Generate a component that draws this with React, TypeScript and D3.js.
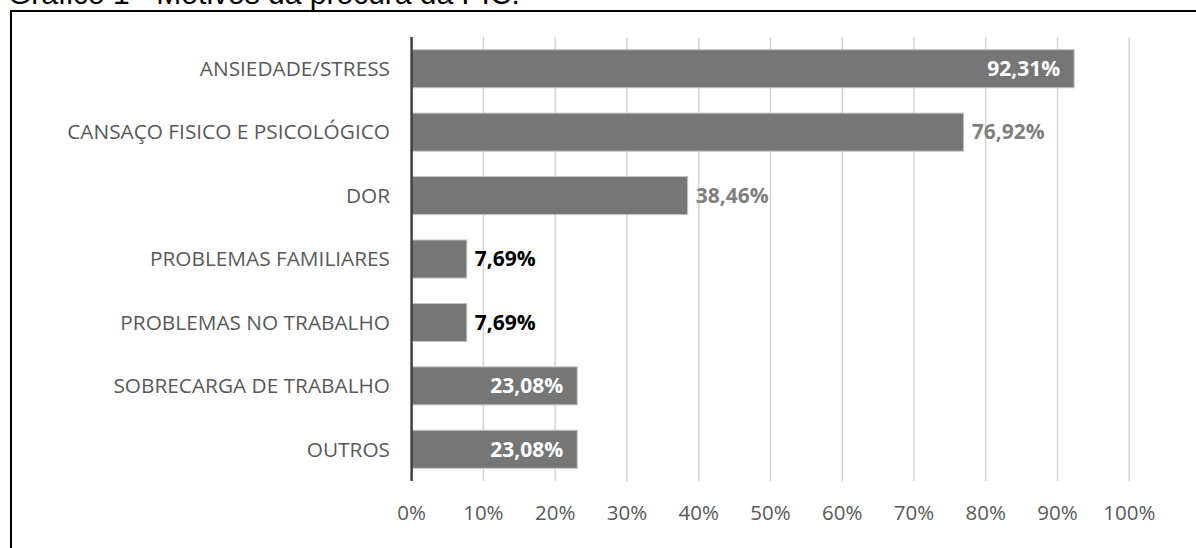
import React from "react";
import * as d3 from "d3";

// Motivos da procura da PIC — percentage of respondents per reason
const categories = [
  "ANSIEDADE/STRESS",
  "CANSAÇO FISICO E PSICOLÓGICO",
  "DOR",
  "PROBLEMAS FAMILIARES",
  "PROBLEMAS NO TRABALHO",
  "SOBRECARGA DE TRABALHO",
  "OUTROS",
];
const values = [92.31, 76.92, 38.46, 7.69, 7.69, 23.08, 23.08];
const tickValues = [0, 10, 20, 30, 40, 50, 60, 70, 80, 90, 100];
const title = "Gráfico 1 - Motivos da procura da PIC.";

// Label placement per bar: inside the bar end or just past it
const labelStyles = [
  { inside: true, color: "#ffffff" },
  { inside: false, color: "#7f7f7f" },
  { inside: false, color: "#7f7f7f" },
  { inside: false, color: "#000000" },
  { inside: false, color: "#000000" },
  { inside: true, color: "#ffffff" },
  { inside: true, color: "#ffffff" },
];

const W = 1196;
const H = 548;
const plot = { left: 411.6, right: 1129.3, top: 37, bottom: 481 };
const font = "'Open Sans', Lato, sans-serif";

const fmt = (v: number) => v.toFixed(2).replace(".", ",") + "%";

export default function App() {
  const x = d3.scaleLinear().domain([0, 100]).range([plot.left, plot.right]);
  const y = d3
    .scaleBand<string>()
    .domain(categories)
    .range([plot.top, plot.bottom])
    .paddingInner(0.4)
    .paddingOuter(0.2);

  return (
    <div style={{ position: "absolute", left: 0, top: 0 }}>
      <svg width={W} height={H} style={{ display: "block", background: "#fff" }}>
        <text x={8} y={4} fontFamily="Arial, 'Liberation Sans', sans-serif" fontSize={30} fill="#000">
          {title}
        </text>
        <rect x={11} y={11} width={W + 20} height={H + 20} fill="none" stroke="#000" strokeWidth={2} />

        {/* vertical gridlines */}
        {tickValues.slice(1).map((t) => (
          <line
            key={t}
            x1={x(t)}
            x2={x(t)}
            y1={plot.top}
            y2={plot.bottom}
            stroke="#d4d4d4"
            strokeWidth={1.5}
          />
        ))}

        {/* bars */}
        {categories.map((c, i) => (
          <rect
            key={c}
            x={x(0)}
            y={y(c)}
            width={x(values[i]) - x(0)}
            height={y.bandwidth()}
            fill="#767676"
            stroke="#c4c4c4"
            strokeWidth={1}
          />
        ))}

        {/* category axis line */}
        <line x1={x(0)} x2={x(0)} y1={plot.top} y2={plot.bottom} stroke="#404040" strokeWidth={2.5} />

        {/* category labels */}
        {categories.map((c) => (
          <text
            key={c}
            x={390}
            y={(y(c) as number) + y.bandwidth() / 2}
            dy="0.35em"
            textAnchor="end"
            fontFamily={font}
            fontSize={20.8}
            fill="#595959"
          >
            {c}
          </text>
        ))}

        {/* value labels */}
        {categories.map((c, i) => {
          const s = labelStyles[i];
          const xe = x(values[i]);
          return (
            <text
              key={c}
              x={s.inside ? xe - 14 : xe + 8}
              y={(y(c) as number) + y.bandwidth() / 2}
              dy="0.35em"
              textAnchor={s.inside ? "end" : "start"}
              fontFamily={font}
              fontWeight="bold"
              fontSize={21}
              fill={s.color}
            >
              {fmt(values[i])}
            </text>
          );
        })}

        {/* x tick labels */}
        {tickValues.map((t) => (
          <text
            key={t}
            x={x(t)}
            y={513}
            dy="0.35em"
            textAnchor="middle"
            fontFamily={font}
            fontSize={20.5}
            fill="#595959"
          >
            {t + "%"}
          </text>
        ))}
      </svg>
    </div>
  );
}
